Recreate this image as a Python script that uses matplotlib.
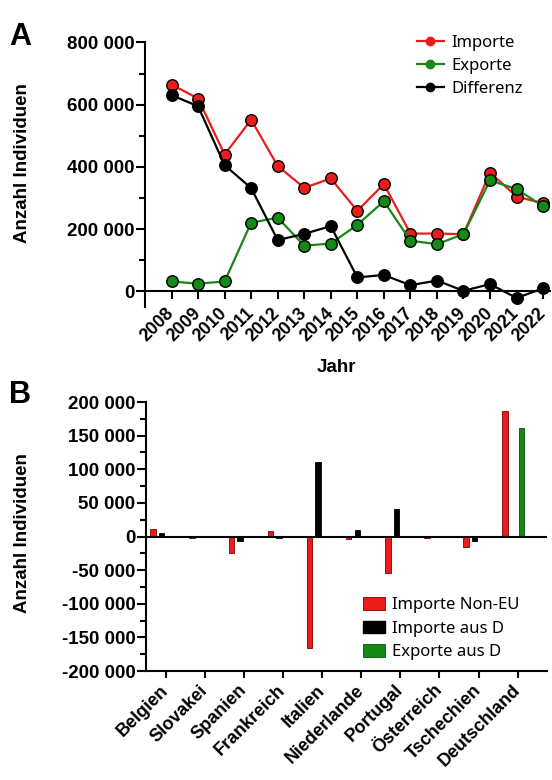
import matplotlib
matplotlib.use("Agg")
import matplotlib.pyplot as plt
import numpy as np
from matplotlib.ticker import FuncFormatter, MultipleLocator
from matplotlib.lines import Line2D
from matplotlib.patches import Patch

# ---------------- data ----------------
years = [2008, 2009, 2010, 2011, 2012, 2013, 2014, 2015, 2016, 2017, 2018, 2019, 2020, 2021, 2022]
importe = [665000, 620000, 440000, 552000, 403000, 333000, 363000, 259000, 345000, 186000, 186000, 184000, 382000, 305000, 283000]
exporte = [32000, 25000, 32000, 221000, 237000, 147000, 154000, 214000, 290000, 163000, 152000, 184000, 357000, 329000, 274000]
differenz = [631000, 595000, 406000, 332000, 165000, 185000, 210000, 45000, 53000, 20000, 35000, 2000, 23500, -21000, 10000]

countries = ["Belgien", "Slovakei", "Spanien", "Frankreich", "Italien", "Niederlande",
             "Portugal", "Österreich", "Tschechien", "Deutschland"]
imp_non_eu = [11600, -1500, -25000, 7500, -166000, -4000, -54000, -1500, -15000, 187000]
imp_aus_d = [5500, -1000, -7000, -2000, 111000, 9500, 41000, -500, -6500, 0]
exp_aus_d = [0, 0, 0, 0, 0, 0, 0, 0, 0, 161000]

RED = "#ec1c1c"
GREEN = "#138a13"
BLACK = "#000000"

TICKFONT = "Liberation Sans"
LEGFONT = "Noto Sans"

plt.rcParams["font.family"] = [TICKFONT, "DejaVu Sans"]

fig = plt.figure(figsize=(5.52, 7.8), dpi=100)

def fmt(v, pos):
    s = f"{abs(v):,.0f}".replace(",", " ")
    return ("-" + s) if v < 0 else s

W = 552.0
H = 780.0

# ---------------- Panel A ----------------
axA = fig.add_axes([145 / W, 1 - 307 / H, (550 - 145) / W, (307 - 42.5) / H])
for vals, col in ((importe, RED), (exporte, GREEN), (differenz, BLACK)):
    axA.plot(years, vals, color=col, lw=1.6, marker="o", ms=8.3, mfc=col, mec=BLACK,
             mew=1.0, zorder=3, clip_on=False)

axA.set_xlim(2007.0, 2022.26)
axA.set_ylim(-50000, 800000)
axA.spines["top"].set_visible(False)
axA.spines["right"].set_visible(False)
axA.spines["bottom"].set_position(("data", 0))
for sp in ("left", "bottom"):
    axA.spines[sp].set_linewidth(1.5)
axA.yaxis.set_major_locator(MultipleLocator(200000))
axA.yaxis.set_minor_locator(MultipleLocator(100000))
axA.yaxis.set_major_formatter(FuncFormatter(fmt))
axA.set_xticks(years)
axA.set_xticklabels([str(y) for y in years], rotation=45, ha="right", va="center",
                    rotation_mode="anchor", fontsize=12.8, fontweight="bold")
axA.tick_params(axis="y", which="major", length=6.5, width=1.5, labelsize=13.5, pad=1)
axA.tick_params(axis="y", which="minor", length=4, width=1.5)
axA.tick_params(axis="x", which="major", length=6, width=1.5, pad=8)
for lab in axA.get_yticklabels():
    lab.set_fontweight("bold")

fig.text((145 + 550) / 2 / W - 0.02, 1 - 368 / H, "Jahr", fontsize=13.5, fontweight="bold",
         ha="center", va="center")
fig.text(23 / W, 1 - 163 / H, "Anzahl Individuen", rotation=90, fontsize=13.5,
         fontweight="bold", ha="center", va="center")
fig.text(9 / W, 1 - 37 / H, "A", fontsize=22, fontweight="bold", ha="left", va="center")

legA = axA.legend(
    handles=[Line2D([], [], color=RED, marker="o", ms=6, mfc=RED, mec=RED, lw=1.6),
             Line2D([], [], color=GREEN, marker="o", ms=6, mfc=GREEN, mec=GREEN, lw=1.6),
             Line2D([], [], color=BLACK, marker="o", ms=6, mfc=BLACK, mec=BLACK, lw=1.6)],
    labels=["Importe", "Exporte", "Differenz"],
    loc="upper left", bbox_to_anchor=(402 / W, 1 - 20 / H), bbox_transform=fig.transFigure,
    frameon=False, handlelength=1.6, handletextpad=0.45, labelspacing=0.42,
    prop={"family": LEGFONT, "size": 12})

# ---------------- Panel B ----------------
axB = fig.add_axes([146 / W, 1 - 671 / H, (547 - 146) / W, (671 - 402) / H])
x = np.arange(len(countries))
bw = 0.14
axB.bar(x - 0.32, imp_non_eu, width=bw, color=RED, edgecolor="#7a0000", linewidth=0.6, zorder=3)
axB.bar(x - 0.10, imp_aus_d, width=bw, color=BLACK, edgecolor=BLACK, linewidth=0.6, zorder=3)
axB.bar(x + 0.10, exp_aus_d, width=bw, color=GREEN, edgecolor="#0a4a0a", linewidth=0.6, zorder=3)
axB.axhline(0, color=BLACK, lw=1.5, zorder=4)

axB.set_xlim(-0.5, 9.75)
axB.set_ylim(-200000, 200000)
axB.spines["top"].set_visible(False)
axB.spines["right"].set_visible(False)
for sp in ("left", "bottom"):
    axB.spines[sp].set_linewidth(1.5)
axB.yaxis.set_major_locator(MultipleLocator(50000))
axB.yaxis.set_minor_locator(MultipleLocator(25000))
axB.yaxis.set_major_formatter(FuncFormatter(fmt))
axB.set_xticks(x)
axB.set_xticklabels(countries, rotation=45, ha="right", va="center",
                    rotation_mode="anchor", fontsize=13, fontweight="bold")
axB.tick_params(axis="y", which="major", length=6.5, width=1.5, labelsize=13.5, pad=1)
axB.tick_params(axis="y", which="minor", length=4, width=1.5)
axB.tick_params(axis="x", which="major", length=5, width=1.5, pad=7)
for lab in axB.get_yticklabels():
    lab.set_fontweight("bold")

fig.text(23 / W, 1 - 533 / H, "Anzahl Individuen", rotation=90, fontsize=13.5,
         fontweight="bold", ha="center", va="center")
fig.text(9 / W, 1 - 395 / H, "B", fontsize=22, fontweight="bold", ha="left", va="center")

legB = axB.legend(
    handles=[Patch(facecolor=RED, edgecolor="#7a0000", linewidth=0.6),
             Patch(facecolor=BLACK, edgecolor=BLACK),
             Patch(facecolor=GREEN, edgecolor="#0a4a0a", linewidth=0.6)],
    labels=["Importe Non-EU", "Importe aus D", "Exporte aus D"],
    loc="upper left", bbox_to_anchor=(348 / W, 1 - 582 / H), bbox_transform=fig.transFigure,
    frameon=False, handlelength=1.3, handleheight=0.8, handletextpad=0.45, labelspacing=0.45,
    prop={"family": LEGFONT, "size": 12})

fig.savefig("out.png", dpi=100)
